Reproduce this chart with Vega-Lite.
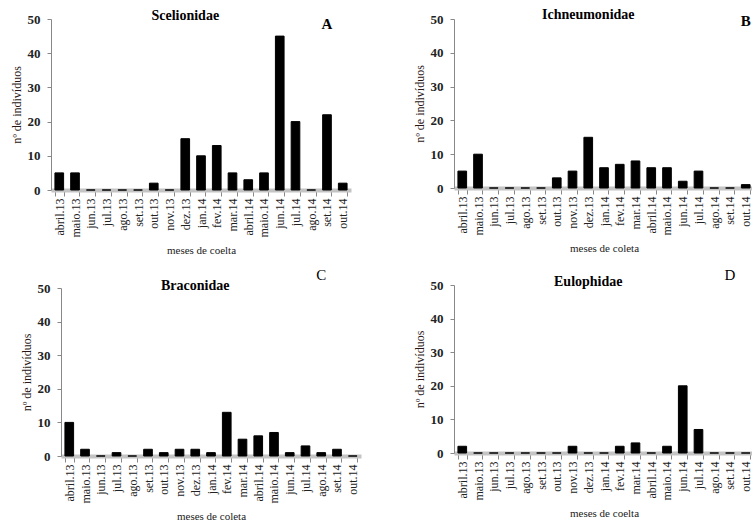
{
  "$schema": "https://vega.github.io/schema/vega-lite/v6.json",
  "padding": {"left": 10, "top": 7, "right": 0, "bottom": 0},
  "background": "white",
  "config": {
    "view": {"stroke": null},
    "font": "Liberation Serif",
    "axisY": {
      "labelFont": "Liberation Serif", "labelFontSize": 13, "labelFontWeight": "bold", "labelColor": "#222",
      "domainColor": "#888", "tickColor": "#888", "tickSize": 4, "grid": false, "labelPadding": 7,
      "titleFont": "Liberation Serif", "titleFontSize": 12, "titleFontWeight": "normal", "titleColor": "#2a1515", "titlePadding": 4,
      "values": [0, 5, 10, 15, 20, 25, 30, 35, 40, 45, 50]
    },
    "axisX": {
      "labelFont": "Liberation Serif", "labelFontSize": 12, "labelAngle": -90, "labelColor": "#222", "labelPadding": 2,
      "domainColor": "#c4c4c4", "domainWidth": 4, "tickColor": "#888", "tickSize": 6, "tickBand": "extent",
      "titleFont": "Liberation Serif", "titleFontSize": 11, "titleFontWeight": "normal", "titleColor": "#222", "titlePadding": 8
    }
  },
  "columns": 2,
  "align": "none",
  "spacing": {"row": 11, "column": 52},
  "concat": [
    {
      "width": 300, "height": 171,
      "layer": [
        {"data": {"values": [
          {"mes": "abril.13", "n": 5}, {"mes": "maio.13", "n": 5}, {"mes": "jun.13", "n": 0}, {"mes": "jul.13", "n": 0},
          {"mes": "ago.13", "n": 0}, {"mes": "set.13", "n": 0}, {"mes": "out.13", "n": 2}, {"mes": "nov.13", "n": 0},
          {"mes": "dez.13", "n": 15}, {"mes": "jan.14", "n": 10}, {"mes": "fev.14", "n": 13}, {"mes": "mar.14", "n": 5},
          {"mes": "abril.14", "n": 3}, {"mes": "maio.14", "n": 5}, {"mes": "jun.14", "n": 45}, {"mes": "jul.14", "n": 20},
          {"mes": "ago.14", "n": 0}, {"mes": "set.14", "n": 22}, {"mes": "out.14", "n": 2}]},
         "mark": {"type": "bar", "color": "black", "stroke": "black", "strokeWidth": 1},
         "encoding": {
           "x": {"field": "mes", "type": "nominal", "sort": null, "scale": {"paddingInner": 0.45, "paddingOuter": 0.25}, "axis": {"title": "meses de coelta"}},
           "y": {"field": "n", "type": "quantitative", "scale": {"domain": [0, 50]}, "axis": {"title": "nº de indivíduos"}}
         }},
        {"data": {"values": [{"t": "Scelionidae"}]}, "mark": {"type": "text", "fontSize": 14, "fontWeight": "bold", "font": "Liberation Serif", "color": "black", "baseline": "middle"},
         "encoding": {"x": {"datum": "dez.13", "type": "nominal"}, "y": {"datum": 51, "type": "quantitative"}, "text": {"field": "t"}}},
        {"data": {"values": [{"t": "A"}]}, "mark": {"type": "text", "fontSize": 15, "fontWeight": "bold", "font": "Liberation Serif", "color": "black", "baseline": "middle"},
         "encoding": {"x": {"datum": "set.14", "type": "nominal"}, "y": {"datum": 48.5, "type": "quantitative"}, "text": {"field": "t"}}}
      ]
    },
    {
      "width": 300, "height": 169,
      "layer": [
        {"data": {"values": [
          {"mes": "abril.13", "n": 5}, {"mes": "maio.13", "n": 10}, {"mes": "jun.13", "n": 0}, {"mes": "jul.13", "n": 0},
          {"mes": "ago.13", "n": 0}, {"mes": "set.13", "n": 0}, {"mes": "out.13", "n": 3}, {"mes": "nov.13", "n": 5},
          {"mes": "dez.13", "n": 15}, {"mes": "jan.14", "n": 6}, {"mes": "fev.14", "n": 7}, {"mes": "mar.14", "n": 8},
          {"mes": "abril.14", "n": 6}, {"mes": "maio.14", "n": 6}, {"mes": "jun.14", "n": 2}, {"mes": "jul.14", "n": 5},
          {"mes": "ago.14", "n": 0}, {"mes": "set.14", "n": 0}, {"mes": "out.14", "n": 1}]},
         "mark": {"type": "bar", "color": "black", "stroke": "black", "strokeWidth": 1},
         "encoding": {
           "x": {"field": "mes", "type": "nominal", "sort": null, "scale": {"paddingInner": 0.45, "paddingOuter": 0.25}, "axis": {"title": "meses de coleta"}},
           "y": {"field": "n", "type": "quantitative", "scale": {"domain": [0, 50]}, "axis": {"title": "nº de indivíduos"}}
         }},
        {"data": {"values": [{"t": "Ichneumonidae"}]}, "mark": {"type": "text", "fontSize": 14, "fontWeight": "bold", "font": "Liberation Serif", "color": "black", "baseline": "middle"},
         "encoding": {"x": {"datum": "dez.13", "type": "nominal"}, "y": {"datum": 51.2, "type": "quantitative"}, "text": {"field": "t"}}},
        {"data": {"values": [{"t": "B"}]}, "mark": {"type": "text", "fontSize": 15, "fontWeight": "bold", "font": "Liberation Serif", "color": "black", "baseline": "middle"},
         "encoding": {"x": {"datum": "out.14", "type": "nominal"}, "y": {"datum": 49.5, "type": "quantitative"}, "text": {"field": "t"}}}
      ]
    },
    {
      "width": 310, "height": 168,
      "layer": [
        {"data": {"values": [
          {"mes": "abril.13", "n": 10}, {"mes": "maio.13", "n": 2}, {"mes": "jun.13", "n": 0}, {"mes": "jul.13", "n": 1},
          {"mes": "ago.13", "n": 0}, {"mes": "set.13", "n": 2}, {"mes": "out.13", "n": 1}, {"mes": "nov.13", "n": 2},
          {"mes": "dez.13", "n": 2}, {"mes": "jan.14", "n": 1}, {"mes": "fev.14", "n": 13}, {"mes": "mar.14", "n": 5},
          {"mes": "abril.14", "n": 6}, {"mes": "maio.14", "n": 7}, {"mes": "jun.14", "n": 1}, {"mes": "jul.14", "n": 3},
          {"mes": "ago.14", "n": 1}, {"mes": "set.14", "n": 2}, {"mes": "out.14", "n": 0}]},
         "mark": {"type": "bar", "color": "black", "stroke": "black", "strokeWidth": 1},
         "encoding": {
           "x": {"field": "mes", "type": "nominal", "sort": null, "scale": {"paddingInner": 0.45, "paddingOuter": 0.25, "range": [10, 310]}, "axis": {"title": "meses de coleta"}},
           "y": {"field": "n", "type": "quantitative", "scale": {"domain": [0, 50]}, "axis": {"title": "nº de indivíduos", "offset": -10}}
         }},
        {"data": {"values": [{"t": "Braconidae"}]}, "mark": {"type": "text", "fontSize": 14, "fontWeight": "bold", "font": "Liberation Serif", "color": "black", "baseline": "middle"},
         "encoding": {"x": {"datum": "dez.13", "type": "nominal"}, "y": {"datum": 50.7, "type": "quantitative"}, "text": {"field": "t"}}},
        {"data": {"values": [{"t": "C"}]}, "mark": {"type": "text", "fontSize": 15, "fontWeight": "normal", "font": "Liberation Serif", "color": "black", "baseline": "middle"},
         "encoding": {"x": {"datum": "ago.14", "type": "nominal"}, "y": {"datum": 54, "type": "quantitative"}, "text": {"field": "t"}}}
      ]
    },
    {
      "width": 300, "height": 168,
      "layer": [
        {"data": {"values": [
          {"mes": "abril.13", "n": 2}, {"mes": "maio.13", "n": 0}, {"mes": "jun.13", "n": 0}, {"mes": "jul.13", "n": 0},
          {"mes": "ago.13", "n": 0}, {"mes": "set.13", "n": 0}, {"mes": "out.13", "n": 0}, {"mes": "nov.13", "n": 2},
          {"mes": "dez.13", "n": 0}, {"mes": "jan.14", "n": 0}, {"mes": "fev.14", "n": 2}, {"mes": "mar.14", "n": 3},
          {"mes": "abril.14", "n": 0}, {"mes": "maio.14", "n": 2}, {"mes": "jun.14", "n": 20}, {"mes": "jul.14", "n": 7},
          {"mes": "ago.14", "n": 0}, {"mes": "set.14", "n": 0}, {"mes": "out.14", "n": 0}]},
         "mark": {"type": "bar", "color": "black", "stroke": "black", "strokeWidth": 1},
         "encoding": {
           "x": {"field": "mes", "type": "nominal", "sort": null, "scale": {"paddingInner": 0.45, "paddingOuter": 0.25}, "axis": {"title": "meses de coelta"}},
           "y": {"field": "n", "type": "quantitative", "scale": {"domain": [0, 50]}, "axis": {"title": "nº de indivíduos"}}
         }},
        {"data": {"values": [{"t": "Eulophidae"}]}, "mark": {"type": "text", "fontSize": 14, "fontWeight": "bold", "font": "Liberation Serif", "color": "black", "baseline": "middle"},
         "encoding": {"x": {"datum": "dez.13", "type": "nominal"}, "y": {"datum": 50.9, "type": "quantitative"}, "text": {"field": "t"}}},
        {"data": {"values": [{"t": "D"}]}, "mark": {"type": "text", "fontSize": 15, "fontWeight": "normal", "font": "Liberation Serif", "color": "black", "baseline": "middle"},
         "encoding": {"x": {"datum": "set.14", "type": "nominal"}, "y": {"datum": 53, "type": "quantitative"}, "text": {"field": "t"}}}
      ]
    }
  ]
}
